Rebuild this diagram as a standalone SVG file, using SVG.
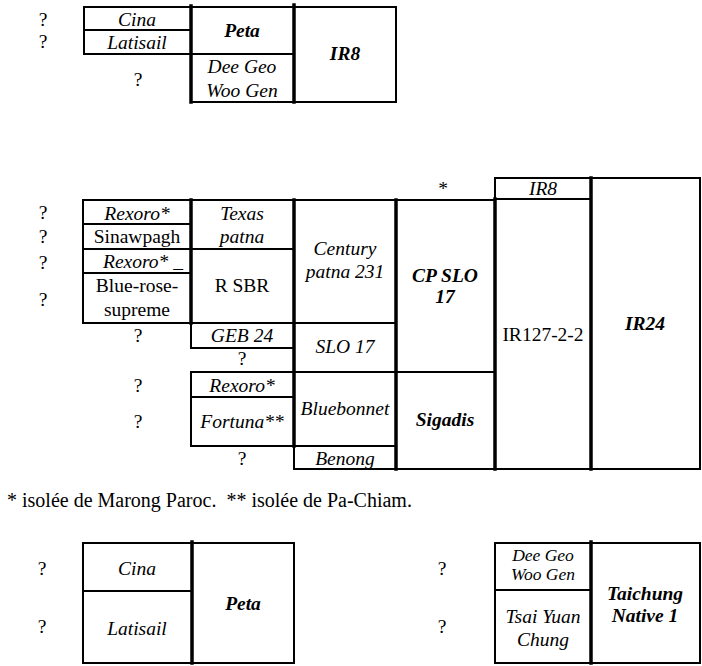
<svg xmlns="http://www.w3.org/2000/svg" width="702" height="666" viewBox="0 0 702 666">
<style>
.c{fill:#fff;stroke:#000;stroke-width:2}
.k{stroke:#000;stroke-width:3.5;stroke-linecap:square}
text{font-family:"Liberation Serif","DejaVu Serif",serif;font-size:19.5px;text-anchor:middle;fill:#000}
.i{font-style:italic}
.b{font-style:italic;font-weight:bold}
</style>
<rect width="702" height="666" fill="#fff"/>
<!-- Top diagram -->
<g id="q-top"><text x="43" y="26">?</text><text x="43" y="48">?</text><text x="138" y="86">?</text></g>
<g id="cina1"><rect class="c" x="84" y="7" width="107" height="23"/><text class="i" x="137" y="26">Cina</text></g>
<g id="latisail1"><rect class="c" x="84" y="30" width="107" height="24"/><text class="i" x="137" y="49">Latisail</text></g>
<g id="peta1"><rect class="c" x="191" y="7" width="103" height="47"/><text class="b" x="242" y="37">Peta</text></g>
<g id="deegeo1"><rect class="c" x="191" y="54" width="103" height="48"/><text class="i" x="242" y="73">Dee Geo</text><text class="i" x="242" y="97">Woo Gen</text></g>
<g id="ir8-1"><rect class="c" x="294" y="7" width="102" height="95"/><text class="b" x="345" y="60">IR8</text></g>
<!-- Middle diagram -->
<g id="q-mid">
<text x="443" y="195">*</text>
<text x="43" y="219">?</text><text x="43" y="243">?</text><text x="43" y="269">?</text><text x="43" y="306">?</text>
<text x="138" y="342">?</text><text x="242" y="365">?</text><text x="138" y="392">?</text><text x="138" y="428">?</text><text x="242" y="465">?</text>
</g>
<g id="rexoro1"><rect class="c" x="83" y="200" width="108" height="24"/><text class="i" x="137" y="220">Rexoro*</text></g>
<g id="sinawpagh"><rect class="c" x="83" y="224" width="108" height="25"/><text x="137" y="243">Sinawpagh</text></g>
<g id="rexoro2"><rect class="c" x="83" y="249" width="108" height="24"/><text class="i" x="103" y="268" style="text-anchor:start">Rexoro* _</text></g>
<g id="bluerose"><rect class="c" x="83" y="273" width="108" height="50"/><text x="137" y="292">Blue-rose-</text><text x="137" y="316">supreme</text></g>
<g id="texas"><rect class="c" x="191" y="200" width="103" height="49"/><text class="i" x="242" y="220">Texas</text><text class="i" x="242" y="243">patna</text></g>
<g id="rsbr"><rect class="c" x="191" y="249" width="103" height="74"/><text x="242" y="292">R SBR</text></g>
<g id="geb24"><rect class="c" x="191" y="323" width="103" height="25"/><text class="i" x="242" y="342">GEB 24</text></g>
<g id="rexoro3"><rect class="c" x="191" y="372" width="103" height="25"/><text class="i" x="242" y="392">Rexoro*</text></g>
<g id="fortuna"><rect class="c" x="191" y="397" width="103" height="49"/><text class="i" x="242" y="428">Fortuna**</text></g>
<g id="century"><rect class="c" x="294" y="200" width="102" height="123"/><text class="i" x="345" y="255">Century</text><text class="i" x="345" y="278">patna 231</text></g>
<g id="slo17"><rect class="c" x="294" y="323" width="102" height="49"/><text class="i" x="345" y="353">SLO 17</text></g>
<g id="bluebonnet"><rect class="c" x="294" y="372" width="102" height="74"/><text class="i" x="345" y="415">Bluebonnet</text></g>
<g id="benong"><rect class="c" x="294" y="446" width="102" height="23"/><text class="i" x="345" y="465">Benong</text></g>
<g id="cpslo17"><rect class="c" x="396" y="200" width="99" height="172"/><text class="b" x="445" y="282">CP SLO</text><text class="b" x="445" y="303">17</text></g>
<g id="sigadis"><rect class="c" x="396" y="372" width="99" height="97"/><text class="b" x="445" y="426">Sigadis</text></g>
<g id="ir8-2"><rect class="c" x="495" y="178" width="96" height="21"/><text class="i" x="543" y="195">IR8</text></g>
<g id="ir127"><rect class="c" x="495" y="199" width="96" height="270"/><text x="543" y="341">IR127-2-2</text></g>
<g id="ir24"><rect class="c" x="591" y="178" width="109" height="291"/><text class="b" x="645" y="330">IR24</text></g>
<!-- Footer -->
<text x="7" y="507" style="text-anchor:start;font-size:20px">* isolée de Marong Paroc.&#160; ** isolée de Pa-Chiam.</text>
<!-- Bottom diagrams -->
<g id="q-bot"><text x="42" y="575">?</text><text x="42" y="633">?</text><text x="442" y="575">?</text><text x="442" y="633">?</text></g>
<g id="cina2"><rect class="c" x="83" y="543" width="109" height="48"/><text class="i" x="137" y="575">Cina</text></g>
<g id="latisail2"><rect class="c" x="83" y="591" width="109" height="72"/><text class="i" x="137" y="635">Latisail</text></g>
<g id="peta2"><rect class="c" x="192" y="543" width="102" height="120"/><text class="b" x="243" y="610">Peta</text></g>
<g id="deegeo2"><rect class="c" x="495" y="543" width="96" height="47"/><text class="i" x="543" y="561" style="font-size:17.5px">Dee Geo</text><text class="i" x="543" y="580" style="font-size:17.5px">Woo Gen</text></g>
<g id="tsai"><rect class="c" x="495" y="590" width="96" height="73"/><text class="i" x="543" y="623">Tsai Yuan</text><text class="i" x="543" y="646">Chung</text></g>
<g id="taichung"><rect class="c" x="591" y="543" width="109" height="120"/><text class="b" x="645" y="600">Taichung</text><text class="b" x="645" y="622">Native 1</text></g>
<!-- Parent-offspring separators -->
<g id="connectors">
<line class="k" x1="191" y1="6" x2="191" y2="102"/>
<line class="k" x1="294" y1="5" x2="294" y2="102"/>
<line class="k" x1="191" y1="200" x2="191" y2="323"/>
<line class="k" x1="294" y1="200" x2="294" y2="446"/>
<line class="k" x1="396" y1="200" x2="396" y2="469"/>
<line class="k" x1="495" y1="199" x2="495" y2="469"/>
<line class="k" x1="591" y1="178" x2="591" y2="469"/>
<line class="k" x1="192" y1="542" x2="192" y2="663"/>
<line class="k" x1="591" y1="542" x2="591" y2="663"/>
</g>
</svg>
